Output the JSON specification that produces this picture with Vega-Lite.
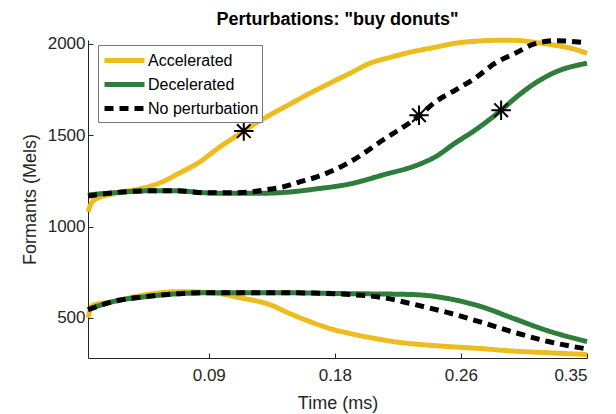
{
  "$schema": "https://vega.github.io/schema/vega-lite/v6.json",
  "width": 499,
  "height": 318,
  "autosize": {"type": "none"},
  "padding": {"left": 88, "top": 40, "right": 29, "bottom": 56},
  "background": "white",
  "title": {"text": "Perturbations: \"buy donuts\"", "fontSize": 18, "fontWeight": "bold", "font": "Liberation Sans", "color": "#000000", "anchor": "middle", "offset": 1},
  "datasets": {
    "curves": [
      {"t":0.0037,"f":1080,"s":"Accelerated","g":"F2"},
      {"t":0.0058,"f":1124,"s":"Accelerated","g":"F2"},
      {"t":0.0082,"f":1146,"s":"Accelerated","g":"F2"},
      {"t":0.0242,"f":1184,"s":"Accelerated","g":"F2"},
      {"t":0.0395,"f":1206,"s":"Accelerated","g":"F2"},
      {"t":0.0534,"f":1238,"s":"Accelerated","g":"F2"},
      {"t":0.0673,"f":1293,"s":"Accelerated","g":"F2"},
      {"t":0.0812,"f":1353,"s":"Accelerated","g":"F2"},
      {"t":0.0951,"f":1435,"s":"Accelerated","g":"F2"},
      {"t":0.1055,"f":1489,"s":"Accelerated","g":"F2"},
      {"t":0.1118,"f":1522,"s":"Accelerated","g":"F2"},
      {"t":0.1160,"f":1544,"s":"Accelerated","g":"F2"},
      {"t":0.1298,"f":1609,"s":"Accelerated","g":"F2"},
      {"t":0.1438,"f":1669,"s":"Accelerated","g":"F2"},
      {"t":0.1577,"f":1729,"s":"Accelerated","g":"F2"},
      {"t":0.1716,"f":1784,"s":"Accelerated","g":"F2"},
      {"t":0.1855,"f":1838,"s":"Accelerated","g":"F2"},
      {"t":0.1994,"f":1893,"s":"Accelerated","g":"F2"},
      {"t":0.2133,"f":1925,"s":"Accelerated","g":"F2"},
      {"t":0.2271,"f":1953,"s":"Accelerated","g":"F2"},
      {"t":0.2445,"f":1980,"s":"Accelerated","g":"F2"},
      {"t":0.2584,"f":2002,"s":"Accelerated","g":"F2"},
      {"t":0.2723,"f":2013,"s":"Accelerated","g":"F2"},
      {"t":0.2862,"f":2018,"s":"Accelerated","g":"F2"},
      {"t":0.3001,"f":2018,"s":"Accelerated","g":"F2"},
      {"t":0.3140,"f":2007,"s":"Accelerated","g":"F2"},
      {"t":0.3279,"f":1991,"s":"Accelerated","g":"F2"},
      {"t":0.3418,"f":1969,"s":"Accelerated","g":"F2"},
      {"t":0.3500,"f":1947,"s":"Accelerated","g":"F2"},
      {"t":0.0037,"f":502,"s":"Accelerated","g":"F1"},
      {"t":0.0068,"f":568,"s":"Accelerated","g":"F1"},
      {"t":0.0207,"f":589,"s":"Accelerated","g":"F1"},
      {"t":0.0444,"f":628,"s":"Accelerated","g":"F1"},
      {"t":0.0673,"f":644,"s":"Accelerated","g":"F1"},
      {"t":0.0902,"f":638,"s":"Accelerated","g":"F1"},
      {"t":0.1090,"f":611,"s":"Accelerated","g":"F1"},
      {"t":0.1298,"f":573,"s":"Accelerated","g":"F1"},
      {"t":0.1438,"f":524,"s":"Accelerated","g":"F1"},
      {"t":0.1577,"f":480,"s":"Accelerated","g":"F1"},
      {"t":0.1716,"f":442,"s":"Accelerated","g":"F1"},
      {"t":0.1855,"f":415,"s":"Accelerated","g":"F1"},
      {"t":0.2028,"f":388,"s":"Accelerated","g":"F1"},
      {"t":0.2202,"f":366,"s":"Accelerated","g":"F1"},
      {"t":0.2341,"f":355,"s":"Accelerated","g":"F1"},
      {"t":0.2529,"f":344,"s":"Accelerated","g":"F1"},
      {"t":0.2758,"f":333,"s":"Accelerated","g":"F1"},
      {"t":0.2987,"f":319,"s":"Accelerated","g":"F1"},
      {"t":0.3224,"f":310,"s":"Accelerated","g":"F1"},
      {"t":0.3500,"f":300,"s":"Accelerated","g":"F1"},
      {"t":0.0037,"f":1173,"s":"Decelerated","g":"F2"},
      {"t":0.0207,"f":1184,"s":"Decelerated","g":"F2"},
      {"t":0.0444,"f":1195,"s":"Decelerated","g":"F2"},
      {"t":0.0652,"f":1195,"s":"Decelerated","g":"F2"},
      {"t":0.0861,"f":1184,"s":"Decelerated","g":"F2"},
      {"t":0.1020,"f":1182,"s":"Decelerated","g":"F2"},
      {"t":0.1229,"f":1182,"s":"Decelerated","g":"F2"},
      {"t":0.1389,"f":1186,"s":"Decelerated","g":"F2"},
      {"t":0.1625,"f":1206,"s":"Decelerated","g":"F2"},
      {"t":0.1855,"f":1233,"s":"Decelerated","g":"F2"},
      {"t":0.2084,"f":1282,"s":"Decelerated","g":"F2"},
      {"t":0.2341,"f":1342,"s":"Decelerated","g":"F2"},
      {"t":0.2445,"f":1380,"s":"Decelerated","g":"F2"},
      {"t":0.2584,"f":1456,"s":"Decelerated","g":"F2"},
      {"t":0.2723,"f":1527,"s":"Decelerated","g":"F2"},
      {"t":0.2904,"f":1636,"s":"Decelerated","g":"F2"},
      {"t":0.3001,"f":1702,"s":"Decelerated","g":"F2"},
      {"t":0.3140,"f":1784,"s":"Decelerated","g":"F2"},
      {"t":0.3279,"f":1844,"s":"Decelerated","g":"F2"},
      {"t":0.3500,"f":1893,"s":"Decelerated","g":"F2"},
      {"t":0.0037,"f":546,"s":"Decelerated","g":"F1"},
      {"t":0.0207,"f":589,"s":"Decelerated","g":"F1"},
      {"t":0.0444,"f":617,"s":"Decelerated","g":"F1"},
      {"t":0.0673,"f":633,"s":"Decelerated","g":"F1"},
      {"t":0.0902,"f":638,"s":"Decelerated","g":"F1"},
      {"t":0.1368,"f":638,"s":"Decelerated","g":"F1"},
      {"t":0.1834,"f":633,"s":"Decelerated","g":"F1"},
      {"t":0.2292,"f":628,"s":"Decelerated","g":"F1"},
      {"t":0.2536,"f":606,"s":"Decelerated","g":"F1"},
      {"t":0.2765,"f":562,"s":"Decelerated","g":"F1"},
      {"t":0.2994,"f":496,"s":"Decelerated","g":"F1"},
      {"t":0.3224,"f":431,"s":"Decelerated","g":"F1"},
      {"t":0.3500,"f":371,"s":"Decelerated","g":"F1"},
      {"t":0.0037,"f":1167,"s":"No perturbation","g":"F2"},
      {"t":0.0207,"f":1184,"s":"No perturbation","g":"F2"},
      {"t":0.0444,"f":1195,"s":"No perturbation","g":"F2"},
      {"t":0.0652,"f":1195,"s":"No perturbation","g":"F2"},
      {"t":0.0861,"f":1184,"s":"No perturbation","g":"F2"},
      {"t":0.1020,"f":1184,"s":"No perturbation","g":"F2"},
      {"t":0.1160,"f":1189,"s":"No perturbation","g":"F2"},
      {"t":0.1264,"f":1200,"s":"No perturbation","g":"F2"},
      {"t":0.1389,"f":1216,"s":"No perturbation","g":"F2"},
      {"t":0.1507,"f":1244,"s":"No perturbation","g":"F2"},
      {"t":0.1625,"f":1271,"s":"No perturbation","g":"F2"},
      {"t":0.1855,"f":1353,"s":"No perturbation","g":"F2"},
      {"t":0.2084,"f":1473,"s":"No perturbation","g":"F2"},
      {"t":0.2334,"f":1605,"s":"No perturbation","g":"F2"},
      {"t":0.2445,"f":1680,"s":"No perturbation","g":"F2"},
      {"t":0.2584,"f":1745,"s":"No perturbation","g":"F2"},
      {"t":0.2723,"f":1811,"s":"No perturbation","g":"F2"},
      {"t":0.2862,"f":1893,"s":"No perturbation","g":"F2"},
      {"t":0.3001,"f":1947,"s":"No perturbation","g":"F2"},
      {"t":0.3140,"f":2000,"s":"No perturbation","g":"F2"},
      {"t":0.3279,"f":2016,"s":"No perturbation","g":"F2"},
      {"t":0.3480,"f":2006,"s":"No perturbation","g":"F2"},
      {"t":0.0037,"f":546,"s":"No perturbation","g":"F1"},
      {"t":0.0207,"f":589,"s":"No perturbation","g":"F1"},
      {"t":0.0444,"f":617,"s":"No perturbation","g":"F1"},
      {"t":0.0673,"f":633,"s":"No perturbation","g":"F1"},
      {"t":0.0902,"f":638,"s":"No perturbation","g":"F1"},
      {"t":0.1368,"f":638,"s":"No perturbation","g":"F1"},
      {"t":0.1855,"f":628,"s":"No perturbation","g":"F1"},
      {"t":0.2084,"f":611,"s":"No perturbation","g":"F1"},
      {"t":0.2306,"f":573,"s":"No perturbation","g":"F1"},
      {"t":0.2536,"f":529,"s":"No perturbation","g":"F1"},
      {"t":0.2772,"f":475,"s":"No perturbation","g":"F1"},
      {"t":0.3001,"f":420,"s":"No perturbation","g":"F1"},
      {"t":0.3231,"f":371,"s":"No perturbation","g":"F1"},
      {"t":0.3480,"f":333,"s":"No perturbation","g":"F1"}
    ],
    "stars": [
      {"t":0.1118,"f":1522},
      {"t":0.2334,"f":1609},
      {"t":0.2904,"f":1636}
    ]
  },
  "encoding": {
    "x": {"field": "t", "type": "quantitative", "scale": {"domain": [0.0037, 0.35], "nice": false, "zero": false},
      "axis": {"title": "Time (ms)", "values": [0.0875, 0.175, 0.2625, 0.35], "labelExpr": "format(datum.value + 0.000001, '.2f')", "labelPadding": 14, "titlePadding": 11}},
    "y": {"field": "f", "type": "quantitative", "scale": {"domain": [281, 2020], "nice": false, "zero": false},
      "axis": {"title": "Formants (Mels)", "values": [500, 1000, 1500, 2000], "format": "d", "labelPadding": 8, "titlePadding": 8}}
  },
  "layer": [
    {
      "data": {"name": "curves"},
      "transform": [{"filter": "datum.s === 'Accelerated'"}],
      "mark": {"type": "line", "interpolate": "monotone", "strokeCap": "butt"},
      "encoding": {
        "detail": {"field": "g"},
        "color": {"field": "s", "type": "nominal", "scale": {"domain": ["Accelerated", "Decelerated", "No perturbation"], "range": ["#EDBD1F", "#2E7D3B", "#000000"]}, "legend": {"title": null}},
        "strokeDash": {"field": "s", "type": "nominal", "scale": {"domain": ["Accelerated", "Decelerated", "No perturbation"], "range": [[1, 0], [1, 0], [9, 6]]}, "legend": {"title": null}},
        "strokeWidth": {"field": "s", "type": "nominal", "scale": {"domain": ["Accelerated", "Decelerated", "No perturbation"], "range": [5, 5, 2]}, "legend": {"title": null}}
      }
    },
    {
      "data": {"name": "curves"},
      "transform": [{"filter": "datum.s === 'Decelerated'"}],
      "mark": {"type": "line", "interpolate": "monotone", "strokeCap": "butt"},
      "encoding": {
        "detail": {"field": "g"},
        "color": {"field": "s", "type": "nominal"},
        "strokeDash": {"field": "s", "type": "nominal"},
        "strokeWidth": {"field": "s", "type": "nominal"}
      }
    },
    {
      "data": {"name": "curves"},
      "transform": [{"filter": "datum.s === 'No perturbation'"}],
      "mark": {"type": "line", "interpolate": "monotone", "strokeCap": "butt"},
      "encoding": {
        "detail": {"field": "g"},
        "color": {"field": "s", "type": "nominal"},
        "strokeDash": {"field": "s", "type": "nominal"},
        "strokeWidth": {"field": "s", "type": "nominal"}
      }
    },
    {
      "data": {"name": "stars"},
      "mark": {"type": "point", "shape": "M0,-1L0,1M-1,0L1,0M-0.7,-0.7L0.7,0.7M-0.7,0.7L0.7,-0.7", "filled": false, "stroke": "#000000", "strokeWidth": 2, "size": 380, "opacity": 1}
    }
  ],
  "resolve": {"scale": {"color": "shared", "strokeDash": "shared", "strokeWidth": "shared"}},
  "config": {
    "font": "Liberation Sans",
    "view": {"stroke": null},
    "axis": {"grid": false, "domainColor": "#262626", "tickColor": "#262626", "labelColor": "#262626", "titleColor": "#262626", "labelFontSize": 17, "titleFontSize": 18, "titleFontWeight": "normal", "tickSize": -5, "domainWidth": 1, "tickWidth": 1},
    "legend": {"orient": "none", "legendX": 10, "legendY": 5, "symbolType": "M-2,0L2,0", "symbolSize": 400, "symbolOffset": 11, "labelFontSize": 16, "labelColor": "#000000", "labelOffset": 11, "padding": 3, "rowPadding": 1, "strokeColor": "#777777", "fillColor": "#ffffff", "cornerRadius": 0, "labelLimit": 300}
  }
}
